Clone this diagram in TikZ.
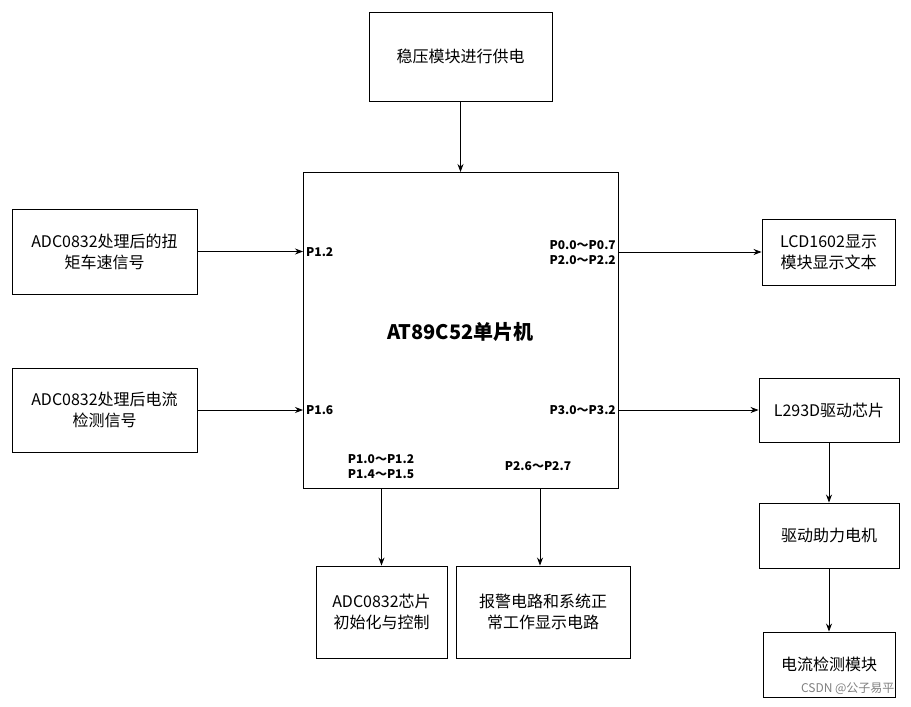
\documentclass[tikz,border=0pt]{standalone}
\usepackage{fontspec}
\setmainfont{Noto Sans CJK SC}
\usetikzlibrary{arrows.meta}
\begin{document}
\begin{tikzpicture}[x=1pt,y=-1pt,
  box/.style={draw,line width=0.9pt,align=center,font=\fontsize{16}{21}\selectfont},
  arr/.style={-{Stealth[length=8pt,width=6pt]},line width=0.8pt},
  pin/.style={font=\bfseries\fontsize{12}{15}\selectfont,align=center,inner sep=1pt}]
\useasboundingbox (0,0) rectangle (911,707);
\node[box,minimum width=183pt,minimum height=89pt] (top) at (460.5,56.5) {稳压模块进行供电};
\node[draw,line width=0.9pt,minimum width=315pt,minimum height=316pt] (mcu) at (460.5,330) {};
\node[font=\bfseries\fontsize{20}{24}\selectfont] (title) at (460.5,332) {AT89C52单片机};
\node[box,minimum width=185pt,minimum height=85pt] (l1) at (104.5,251.5) {ADC0832处理后的扭\\矩车速信号};
\node[box,minimum width=185pt,minimum height=84pt] (l2) at (104.5,410) {ADC0832处理后电流\\检测信号};
\node[box,minimum width=133pt,minimum height=66pt] (r1) at (828.5,252) {LCD1602显示\\模块显示文本};
\node[box,minimum width=140pt,minimum height=64pt] (r2) at (829,410) {L293D驱动芯片};
\node[box,minimum width=140pt,minimum height=65pt] (r3) at (829,535.5) {驱动助力电机};
\node[box,minimum width=132pt,minimum height=65pt] (r4) at (829,664.5) {电流检测模块};
\node[box,minimum width=131pt,minimum height=92pt] (b1) at (381.5,612) {ADC0832芯片\\初始化与控制};
\node[box,minimum width=174pt,minimum height=92pt] (b2) at (543,612) {报警电路和系统正\\常工作显示电路};
\coordinate (mt) at (460.5,172);
\draw[arr] (top) -- (mt);
\coordinate (ml1) at (303,251.5); \coordinate (ml2) at (303,410);
\draw[arr] (l1) -- (ml1);
\draw[arr] (l2) -- (ml2);
\coordinate (mr1) at (618,252); \coordinate (mr2) at (618,410);
\draw[arr] (mr1) -- (r1);
\draw[arr] (mr2) -- (r2);
\draw[arr] (r2) -- (r3);
\draw[arr] (r3) -- (r4);
\coordinate (mb1) at (381.5,488); \coordinate (mb2) at (540,488);
\draw[arr] (mb1) -- (mb1 |- b1.north);
\draw[arr] (mb2) -- (mb2 |- b2.north);
\node[pin,anchor=west] (p12) at (305,252) {P1.2};
\node[pin,anchor=west] (p16) at (305,410) {P1.6};
\node[pin,anchor=east] (p0) at (617,253) {P0.0～P0.7\\P2.0～P2.2};
\node[pin,anchor=east] (p3) at (617,410) {P3.0～P3.2};
\node[pin] (p1) at (381,467) {P1.0～P1.2\\P1.4～P1.5};
\node[pin] (p2) at (538,466) {P2.6～P2.7};
\node[font=\fontsize{12}{14}\selectfont,text=gray,anchor=east] (wm) at (898,689) {CSDN @公子易平};
\end{tikzpicture}
\end{document}
